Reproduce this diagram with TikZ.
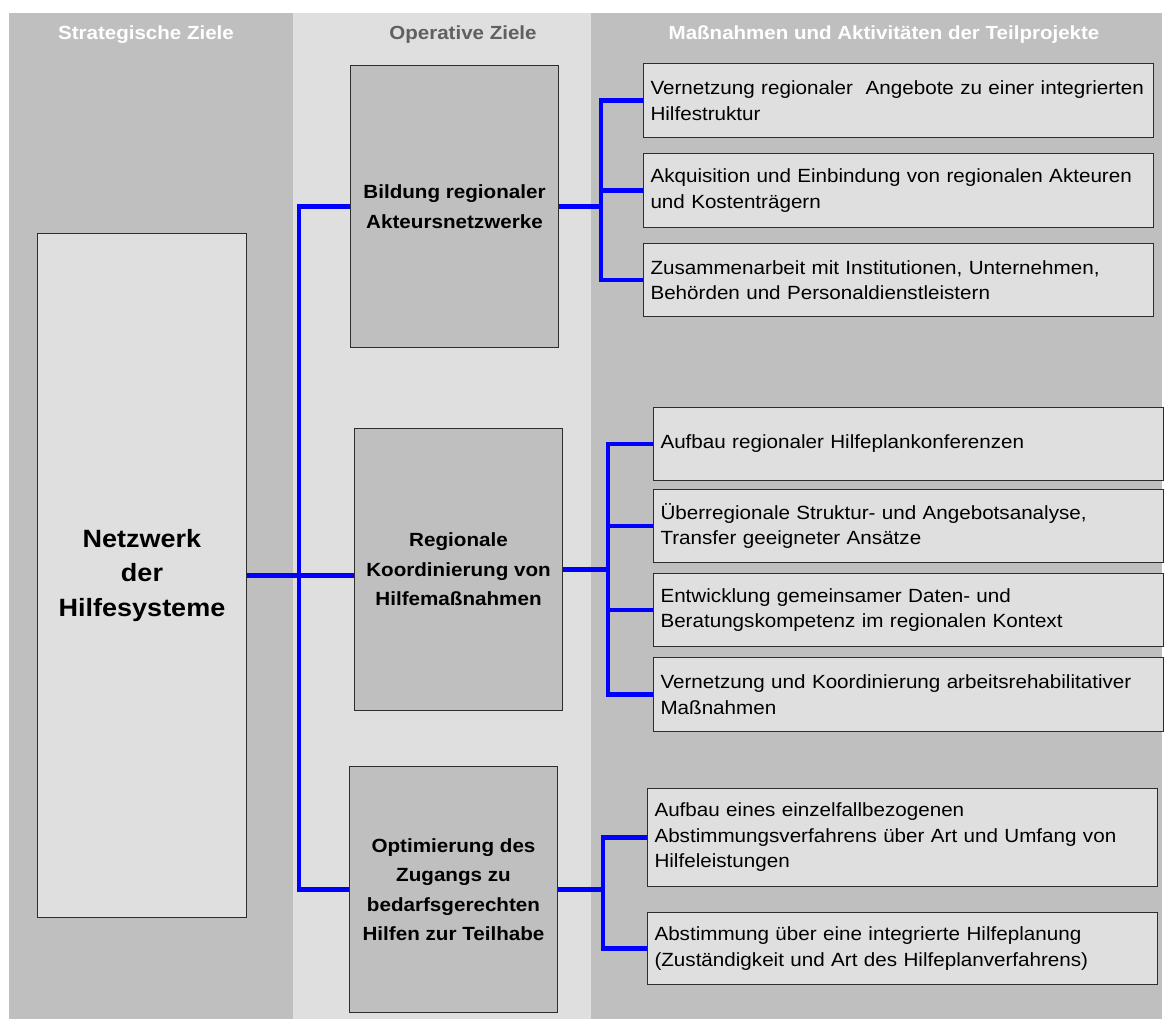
\documentclass[tikz,border=0pt]{standalone}
\usepackage{fontspec}
\setmainfont{Liberation Sans}[FakeStretch=1.08]
\usetikzlibrary{positioning,calc}
\definecolor{panel}{RGB}{191,191,191}
\definecolor{paper}{RGB}{223,223,223}
\definecolor{wire}{RGB}{0,0,255}
\definecolor{ink}{RGB}{45,45,45}
\definecolor{slate}{RGB}{96,96,96}
\tikzset{
  colhead/.style={anchor=base,text=#1,font=\fontsize{19}{23}\selectfont\bfseries},
  colhead/.default=white,
  goal/.style={draw=ink,fill=paper,line width=1pt,anchor=north west,
    minimum width=209pt,minimum height=684pt,align=center,
    font=\fontsize{25}{34.5}\selectfont\bfseries},
  opbox/.style={draw=ink,fill=panel,line width=1pt,anchor=north west,
    minimum width=208pt,minimum height=#1,align=center,
    font=\fontsize{19.1}{29.5}\selectfont\bfseries},
  opbox/.default=282pt,
  actbox/.style={draw=ink,fill=paper,line width=1pt,anchor=north west,
    minimum height=#1,text width=496pt,inner xsep=7pt,align=left,
    font=\fontsize{19.1}{25.5}\selectfont},
  actbox/.default=73pt,
  link/.style={draw=wire,line width=4.2pt},
}
\begin{document}
\begin{tikzpicture}[x=1pt,y=-1pt]
  \useasboundingbox (0,0) rectangle (1164,1021);
  % columns
  \fill[panel] (9,13) rectangle (293,1019);
  \fill[paper] (293,13) rectangle (591,1019);
  \fill[panel] (591,13) rectangle (1162,1019);
  \node[colhead] (hs) at (146,39) {Strategische Ziele};
  \node[colhead=slate] (ho) at (463,39) {Operative Ziele};
  \node[colhead] (hm) at (884,39) {Maßnahmen und Aktivitäten der Teilprojekte};

  % strategic and operative goals
  \node[goal] (netz) at (37,233) {Netzwerk\\der\\Hilfesysteme};
  \node[opbox] (opA) at (350,65) {Bildung regionaler\\Akteursnetzwerke};
  \node[opbox] (opB) at (354,428) {Regionale\\Koordinierung von\\Hilfemaßnahmen};
  \node[opbox=246pt] (opC) at (349,766) {Optimierung des\\Zugangs zu\\bedarfsgerechten\\Hilfen zur Teilhabe};

  % activities
  \foreach \n/\x/\y/\h/\t in {
    a1/643/63/74pt/{Vernetzung regionaler~ Angebote zu einer integrierten\\Hilfestruktur},
    a2/643/153/74pt/{Akquisition und Einbindung von regionalen Akteuren\\und Kostenträgern},
    a3/643/243/73pt/{Zusammenarbeit mit Institutionen, Unternehmen,\\Behörden und Personaldienstleistern},
    b1/653/407/73pt/{Aufbau regionaler Hilfeplankonferenzen},
    b2/653/489/73pt/{Überregionale Struktur- und Angebotsanalyse,\\Transfer geeigneter Ansätze},
    b3/653/573/73pt/{Entwicklung gemeinsamer Daten- und\\Beratungskompetenz im regionalen Kontext},
    b4/653/657/74pt/{Vernetzung und Koordinierung arbeitsrehabilitativer\\Maßnahmen},
    c1/647/788/98pt/{Aufbau eines einzelfallbezogenen\\Abstimmungsverfahrens über Art und Umfang von\\Hilfeleistungen},
    c2/647/912/72pt/{Abstimmung über eine integrierte Hilfeplanung\\(Zuständigkeit und Art des Hilfeplanverfahrens)}}
  {
    \node[actbox=\h] (\n) at (\x,\y) {\t};
  }

  % connectors
  \coordinate (tM) at (299,0);
  \coordinate (tA) at (601,0);
  \coordinate (tB) at (608,0);
  \coordinate (tC) at (603,0);
  \draw[link] (netz.east) -- (netz.east -| opB.west);
  \draw[link] (opA.west) -- (opA.west -| tM) -- (opC.west -| tM) -- (opC.west);

  \draw[link] (opA.east) -- (opA.east -| tA);
  \draw[link] (a1.west) -- (a1.west -| tA) -- (a3.west -| tA) -- (a3.west);
  \draw[link] (a2.west) -- (a2.west -| tA);

  \draw[link] (opB.east) -- (opB.east -| tB);
  \draw[link] (b1.west) -- (b1.west -| tB) -- (b4.west -| tB) -- (b4.west);
  \foreach \n in {b2,b3}
    \draw[link] (\n.west) -- (\n.west -| tB);

  \draw[link] (opC.east) -- (opC.east -| tC);
  \draw[link] (c1.west) -- (c1.west -| tC) -- (c2.west -| tC) -- (c2.west);
\end{tikzpicture}
\end{document}
